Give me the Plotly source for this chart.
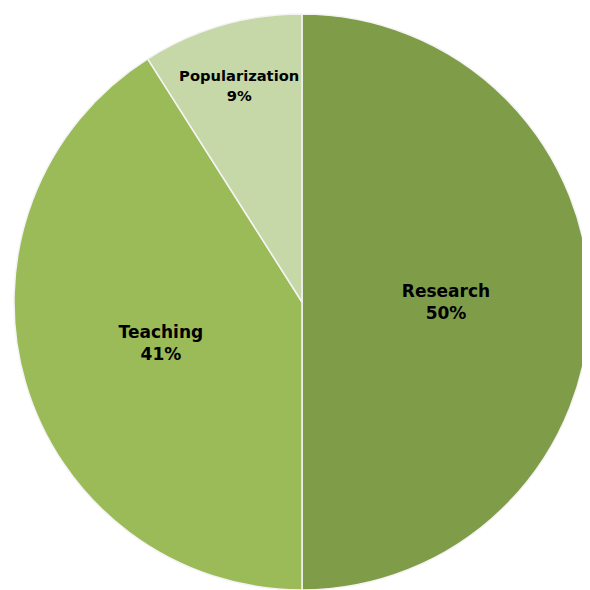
import plotly.graph_objects as go

labels = ["Research", "Teaching", "Popularization"]
values = [50, 41, 9]
colors = ["#7F9C48", "#9BBB59", "#C6D7A8"]

fig = go.Figure(go.Pie(
    labels=labels, values=values, sort=False, direction="clockwise", rotation=0,
    marker=dict(colors=colors, line=dict(color="#F4F4F4", width=1.5)),
    textinfo="label+percent", texttemplate="<b>%{label}</b><br><b>%{percent:.0%}</b>",
    textposition="inside", insidetextorientation="horizontal",
    textfont=dict(family="DejaVu Sans", size=17, color="black"),
    showlegend=False, hoverinfo="label+percent",
))
fig.update_layout(width=590, height=590, margin=dict(l=6, t=6, r=8, b=8),
                  paper_bgcolor="white", plot_bgcolor="white")
fig.write_html("out.html")
